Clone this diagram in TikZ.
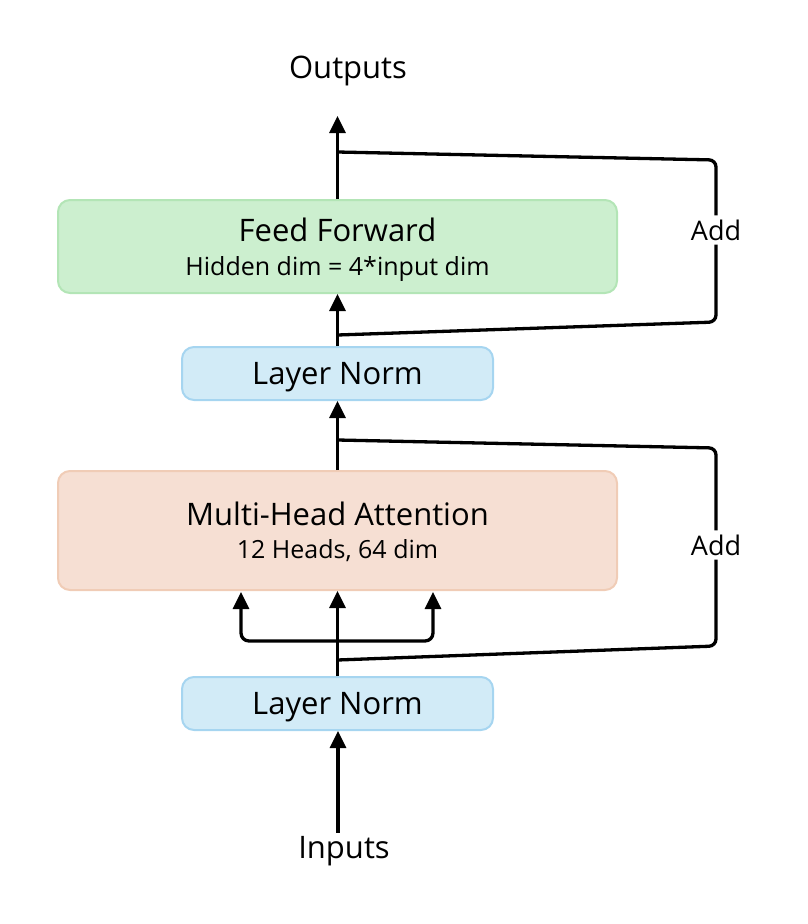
\documentclass[tikz,border=0pt]{standalone}
\usepackage{fontspec}
\setmainfont{Open Sans}
\usetikzlibrary{arrows.meta}
\definecolor{ffgreen}{HTML}{CCEFCF}
\definecolor{ffgreenline}{HTML}{B3E5B6}
\definecolor{normblue}{HTML}{D2EBF7}
\definecolor{normblueline}{HTML}{A6D5F0}
\definecolor{attnred}{HTML}{F6DFD3}
\definecolor{attnredline}{HTML}{F0CCB6}
\newcommand{\titletext}{\fontsize{31}{36}\selectfont}
\newcommand{\subtext}{\fontsize{25}{30}\selectfont}
\tikzset{
	block/.style={rounded corners=12pt,line width=2pt,align=center,inner sep=0pt,text depth=0pt},%
	feedforward/.style={block,fill=ffgreen,draw=ffgreenline,minimum width=559pt,minimum height=93pt,font=\titletext},%
	attention/.style={block,fill=attnred,draw=attnredline,minimum width=559pt,minimum height=119pt,font=\titletext},%
	layernorm/.style={block,fill=normblue,draw=normblueline,minimum width=311pt,minimum height=53pt,font=\titletext},%
	label/.style={font=\titletext},%
	addlabel/.style={font=\fontsize{27}{30}\selectfont,inner sep=4pt},%
	flow/.style={line width=3.3pt,-{Triangle[width=16pt,length=17pt]}},%
	residual/.style={line width=3.3pt,rounded corners=7pt},%
}
\begin{document}
\begin{tikzpicture}[%
		x=1pt,y=-1pt,%
		]
		\useasboundingbox (0,0) rectangle (808,924);
		% blocks
		\node[layernorm] (norm2) at (337.5,703.5) {Layer Norm};
		\node[attention] (mha) at (337.5,530.5) {Multi-Head Attention\\[-3pt]\subtext 12 Heads, 64 dim};
		\node[layernorm] (norm1) at (337.5,373.5) {Layer Norm};
		\node[feedforward] (ff) at (337.5,246.5) {Feed Forward\\[-2pt]\subtext Hidden dim = 4*input dim};
		\node[label] (inputs) at (344,851) {Inputs};
		\node[label] (outputs) at (348,71) {Outputs};
		\node[addlabel] (add1) at (716,545) {Add};
		\node[addlabel] (add2) at (716,230) {Add};
		% points on the main line
		\coordinate (split) at (337.5,641);
		\coordinate (res1out) at (337.5,660);
		\coordinate (res1in) at (337.5,440);
		\coordinate (res2out) at (337.5,335);
		\coordinate (res2in) at (337.5,152);
		\coordinate (top) at (337.5,116);
		% main path
		\draw[flow] (inputs.north) ++(-6,0) coordinate (inbase) -- (inbase |- norm2.south);
		\draw[flow] (norm2.north) -- (mha.south);
		\draw[flow,rounded corners=8pt] (split) -| (241,592);
		\draw[flow,rounded corners=8pt] (split) -| (433,592);
		\draw[flow] (mha.north) -- (norm1.south);
		\draw[flow] (norm1.north) -- (ff.south);
		\draw[flow] (ff.north) -- (top);
		% residual connections
		\draw[residual] (res1out) -- (716,646) -- (add1.south);
		\draw[residual] (res1in) -- (716,448) -- (add1.north);
		\draw[residual] (res2out) -- (716,322) -- (add2.south);
		\draw[residual] (res2in) -- (716,160) -- (add2.north);
	\end{tikzpicture}
\end{document}
